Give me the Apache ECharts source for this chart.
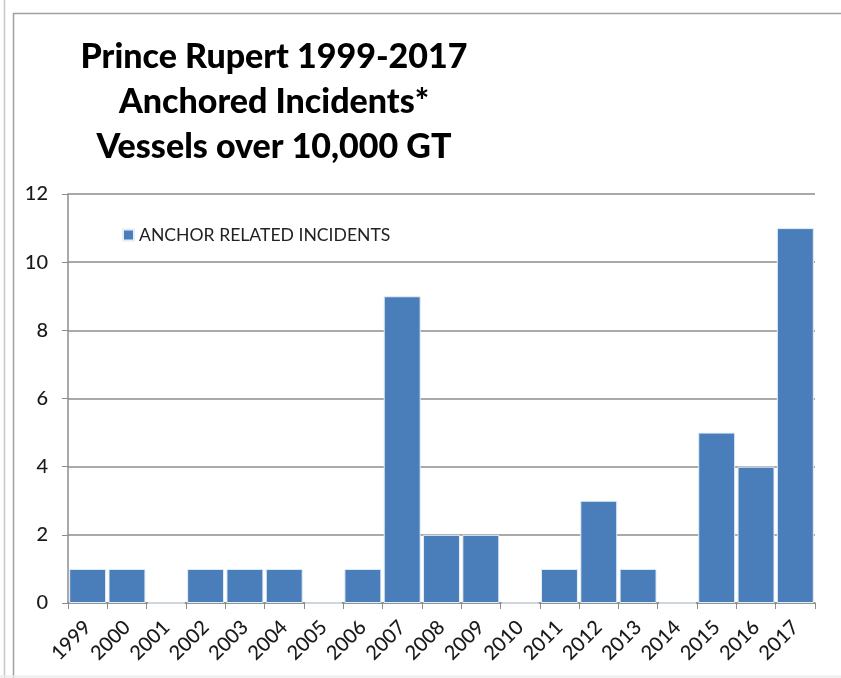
<!DOCTYPE html>
<html>
<head>
<meta charset="utf-8">
<script src="https://cdn.jsdelivr.net/npm/echarts@6/dist/echarts.min.js"></script>
<style>html,body{margin:0;padding:0;background:#fff;}#c{width:841px;height:678px;}</style>
</head>
<body>
<div id="c"></div>
<script>
const years = ['1999','2000','2001','2002','2003','2004','2005','2006','2007','2008','2009','2010','2011','2012','2013','2014','2015','2016','2017'];
const incidents = [1,1,0,1,1,1,0,1,9,2,2,0,1,3,1,0,5,4,11];
const yTicks = [0,2,4,6,8,10,12];
const seriesName = 'ANCHOR RELATED INCIDENTS';
const titleLines = ['Prince Rupert 1999-2017','Anchored Incidents*','Vessels over 10,000 GT'];

const chart = echarts.init(document.getElementById('c'));
chart.setOption({
  animation: false,
  backgroundColor: '#fff',
  title: {
    text: titleLines.join('\n'),
    left: 269, top: 30, textAlign: 'center',
    textStyle: {fontFamily: 'Lato', fontWeight: 900, fontSize: 34, lineHeight: 45, color: '#000'}
  },
  legend: {
    left: 117, top: 221, itemWidth: 11, itemHeight: 11, itemGap: 6,
    icon: 'rect',
    textStyle: {fontFamily: 'Lato', fontSize: 17.6, color: '#222'},
    data: [seriesName]
  },
  grid: {left: 68, right: 26, top: 194, bottom: 75},
  xAxis: {
    type: 'category', data: years,
    axisLine: {lineStyle: {color: '#8c8c8c', width: 1.5}},
    axisTick: {show: true, length: 6, lineStyle: {color: '#8c8c8c'}},
    axisLabel: {rotate: 45, fontFamily: 'Lato', fontSize: 20, fontWeight: 500, color: '#1a1a1a', margin: 21, padding: [0, 0, 0, 0]}
  },
  yAxis: {
    type: 'value', min: yTicks[0], max: yTicks[yTicks.length-1], interval: 2,
    axisLine: {show: true, lineStyle: {color: '#8c8c8c', width: 1.5}},
    axisTick: {show: true, length: 6, lineStyle: {color: '#8c8c8c'}},
    splitLine: {lineStyle: {color: '#8c8c8c', width: 1.5}},
    axisLabel: {fontFamily: 'Lato', fontSize: 20, fontWeight: 500, color: '#1a1a1a', margin: 20}
  },
  series: [{
    name: seriesName, type: 'bar', data: incidents,
    barCategoryGap: '6%',
    itemStyle: {color: '#4a7ebb', borderColor: '#e4eef8', borderWidth: 1}
  }],
  graphic: [
    {type: 'line', shape: {x1: 4.5, y1: 0, x2: 4.5, y2: 678}, style: {stroke: '#c8c8c8', lineWidth: 1.5}},
    {type: 'line', shape: {x1: 13, y1: 13.5, x2: 841, y2: 13.5}, style: {stroke: '#a0a0a0', lineWidth: 1.5}},
    {type: 'line', shape: {x1: 13.5, y1: 13, x2: 13.5, y2: 678}, style: {stroke: '#a0a0a0', lineWidth: 1.5}},
    {type: 'line', shape: {x1: 0, y1: 676.5, x2: 841, y2: 676.5}, style: {stroke: '#ececec', lineWidth: 2}}
  ]
});
</script>
</body>
</html>
